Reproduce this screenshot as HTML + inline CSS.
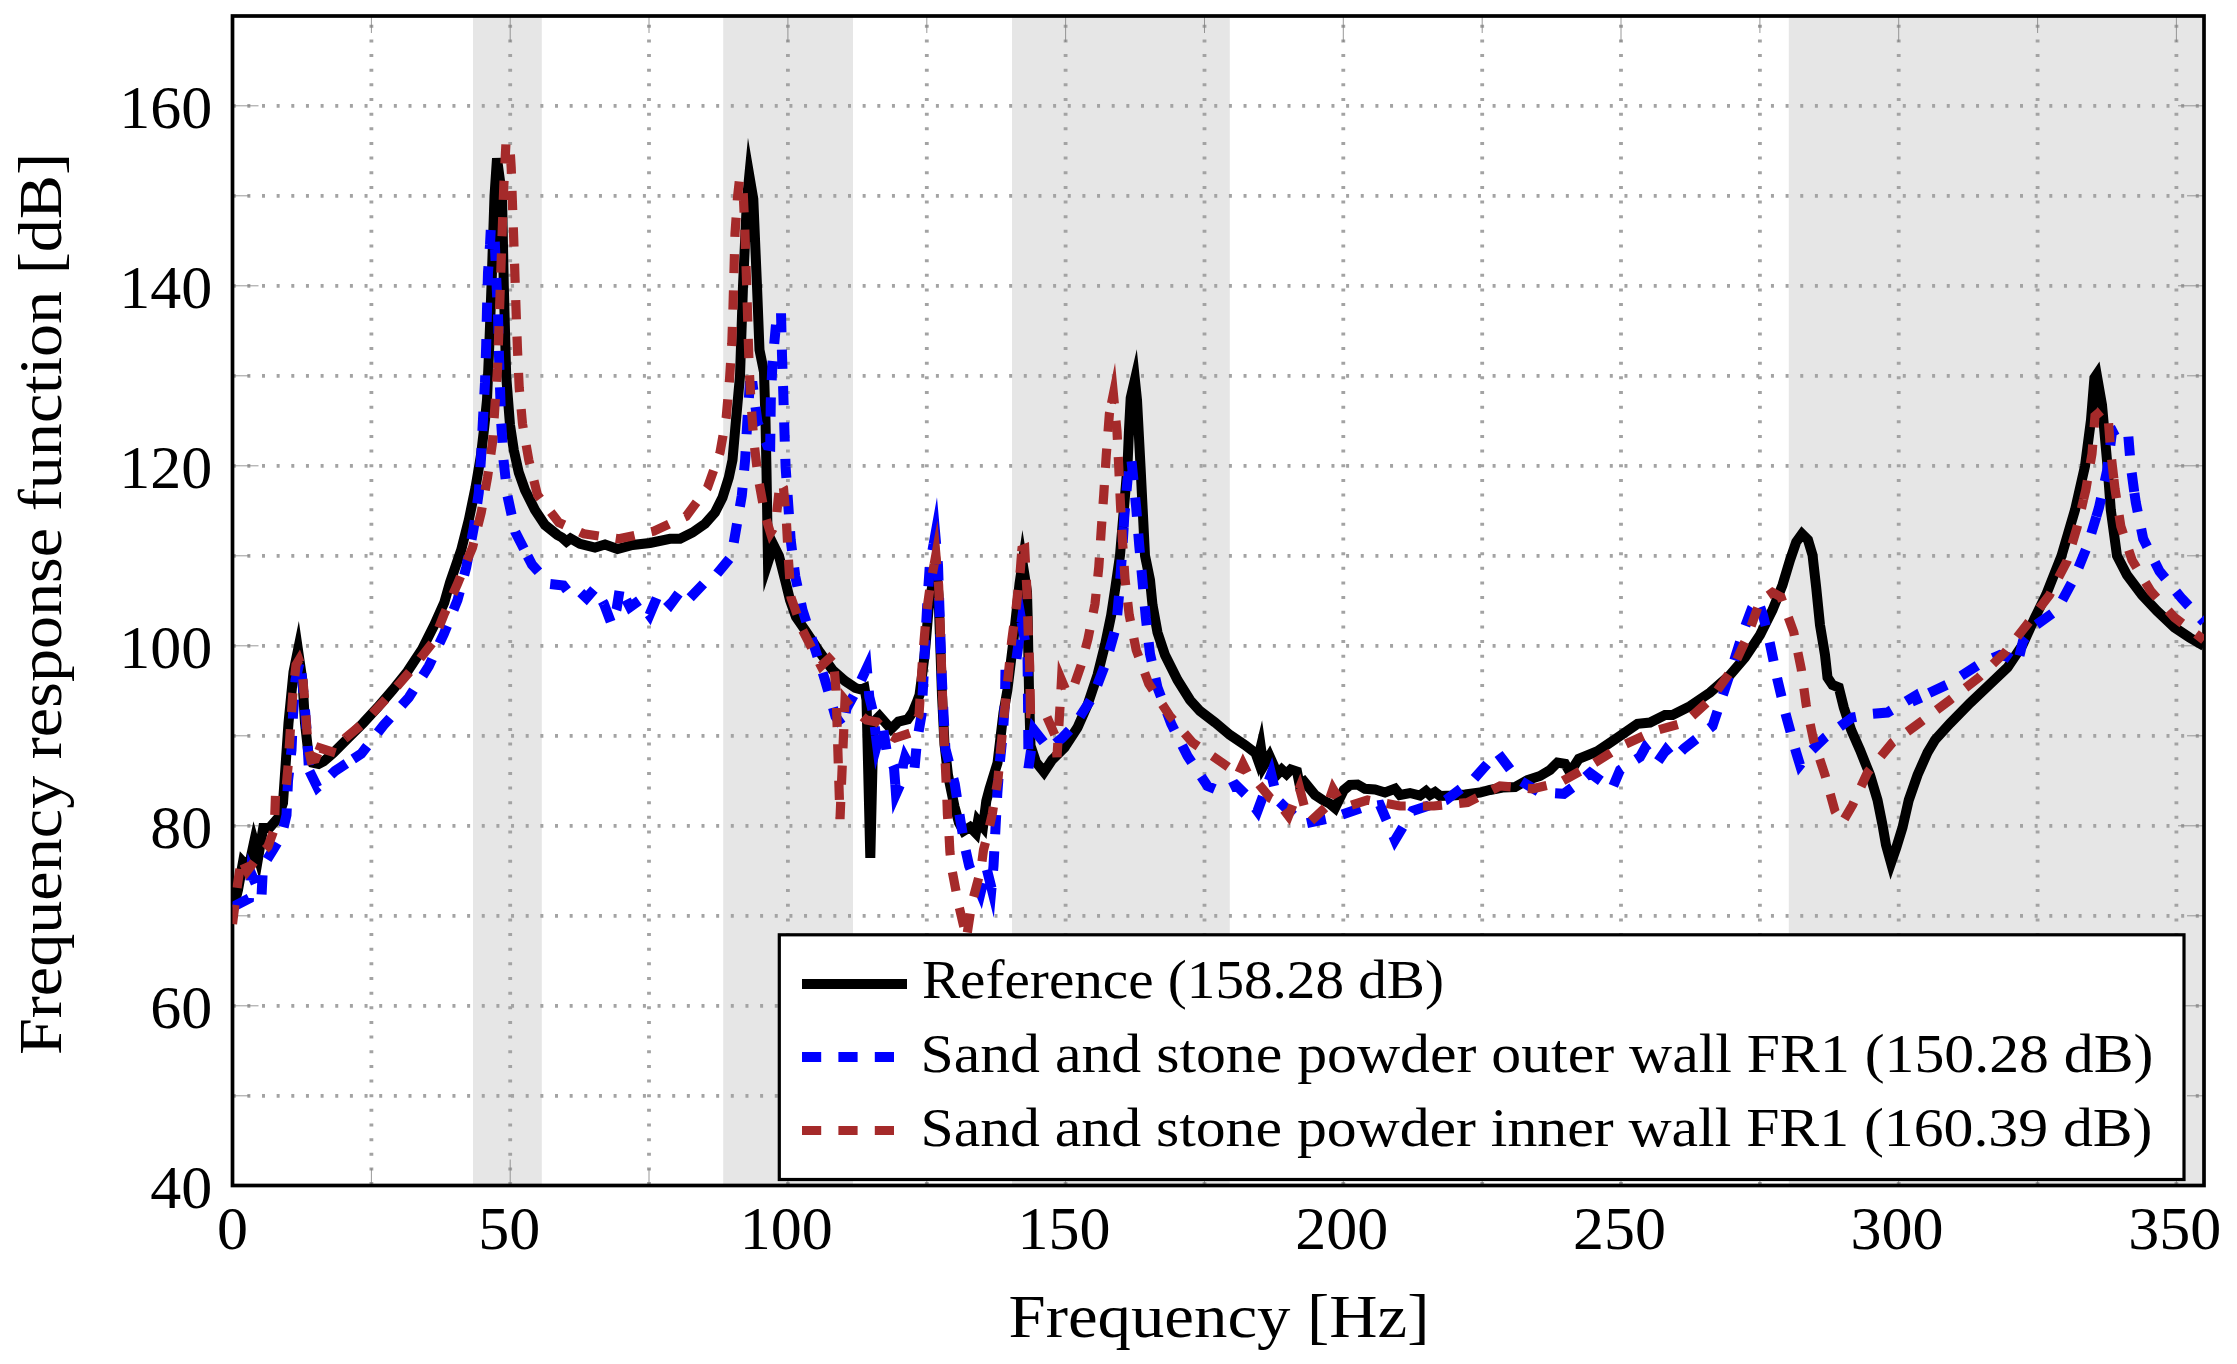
<!DOCTYPE html>
<html lang="en"><head><meta charset="utf-8"><title>Frequency response function</title>
<style>html,body{margin:0;padding:0;background:#fff}svg{display:block}text{font-family:"Liberation Serif","DejaVu Serif",serif;fill:#000}</style></head><body>
<svg width="2237" height="1364" viewBox="0 0 2237 1364">
<rect width="2237" height="1364" fill="#fff"/>
<rect x="473.0" y="16.0" width="68.8" height="1169.5" fill="#e6e6e6"/>
<rect x="723.2" y="16.0" width="129.8" height="1169.5" fill="#e6e6e6"/>
<rect x="1012.0" y="16.0" width="217.8" height="1169.5" fill="#e6e6e6"/>
<rect x="1788.8" y="16.0" width="415.2" height="1169.5" fill="#e6e6e6"/>
<g stroke="#a3a3a3" stroke-width="3.8" stroke-dasharray="3 11.65" fill="none">
<path d="M371.4 1185.5 V16.0" stroke-dashoffset="-0.4"/>
<path d="M510.2 1185.5 V16.0" stroke-dashoffset="-0.4"/>
<path d="M649.0 1185.5 V16.0" stroke-dashoffset="-0.4"/>
<path d="M787.9 1185.5 V16.0" stroke-dashoffset="-0.4"/>
<path d="M926.8 1185.5 V16.0" stroke-dashoffset="-0.4"/>
<path d="M1065.6 1185.5 V16.0" stroke-dashoffset="-0.4"/>
<path d="M1204.5 1185.5 V16.0" stroke-dashoffset="-0.4"/>
<path d="M1343.3 1185.5 V16.0" stroke-dashoffset="-0.4"/>
<path d="M1482.2 1185.5 V16.0" stroke-dashoffset="-0.4"/>
<path d="M1621.0 1185.5 V16.0" stroke-dashoffset="-0.4"/>
<path d="M1759.9 1185.5 V16.0" stroke-dashoffset="-0.4"/>
<path d="M1898.7 1185.5 V16.0" stroke-dashoffset="-0.4"/>
<path d="M2037.6 1185.5 V16.0" stroke-dashoffset="-0.4"/>
<path d="M2176.4 1185.5 V16.0" stroke-dashoffset="-0.4"/>
<path d="M232.5 1095.8 H2204.0" stroke-dashoffset="-0.2"/>
<path d="M232.5 1005.8 H2204.0" stroke-dashoffset="-0.2"/>
<path d="M232.5 915.8 H2204.0" stroke-dashoffset="-0.2"/>
<path d="M232.5 825.8 H2204.0" stroke-dashoffset="-0.2"/>
<path d="M232.5 735.8 H2204.0" stroke-dashoffset="-0.2"/>
<path d="M232.5 645.8 H2204.0" stroke-dashoffset="-0.2"/>
<path d="M232.5 555.8 H2204.0" stroke-dashoffset="-0.2"/>
<path d="M232.5 465.8 H2204.0" stroke-dashoffset="-0.2"/>
<path d="M232.5 375.8 H2204.0" stroke-dashoffset="-0.2"/>
<path d="M232.5 285.8 H2204.0" stroke-dashoffset="-0.2"/>
<path d="M232.5 195.8 H2204.0" stroke-dashoffset="-0.2"/>
<path d="M232.5 105.8 H2204.0" stroke-dashoffset="-0.2"/>
</g>
<g stroke="#7f7f7f" stroke-width="0.8" fill="none">
<path d="M232.5 16.0 v26.0 M232.5 1185.5 v-26.0"/>
<path d="M371.4 16.0 v17.0 M371.4 1185.5 v-17.0"/>
<path d="M510.2 16.0 v26.0 M510.2 1185.5 v-26.0"/>
<path d="M649.0 16.0 v17.0 M649.0 1185.5 v-17.0"/>
<path d="M787.9 16.0 v26.0 M787.9 1185.5 v-26.0"/>
<path d="M926.8 16.0 v17.0 M926.8 1185.5 v-17.0"/>
<path d="M1065.6 16.0 v26.0 M1065.6 1185.5 v-26.0"/>
<path d="M1204.5 16.0 v17.0 M1204.5 1185.5 v-17.0"/>
<path d="M1343.3 16.0 v26.0 M1343.3 1185.5 v-26.0"/>
<path d="M1482.2 16.0 v17.0 M1482.2 1185.5 v-17.0"/>
<path d="M1621.0 16.0 v26.0 M1621.0 1185.5 v-26.0"/>
<path d="M1759.9 16.0 v17.0 M1759.9 1185.5 v-17.0"/>
<path d="M1898.7 16.0 v26.0 M1898.7 1185.5 v-26.0"/>
<path d="M2037.6 16.0 v17.0 M2037.6 1185.5 v-17.0"/>
<path d="M2176.4 16.0 v26.0 M2176.4 1185.5 v-26.0"/>
<path d="M232.5 1185.8 h26.0 M2204.0 1185.8 h-26.0"/>
<path d="M232.5 1095.8 h17.0 M2204.0 1095.8 h-17.0"/>
<path d="M232.5 1005.8 h26.0 M2204.0 1005.8 h-26.0"/>
<path d="M232.5 915.8 h17.0 M2204.0 915.8 h-17.0"/>
<path d="M232.5 825.8 h26.0 M2204.0 825.8 h-26.0"/>
<path d="M232.5 735.8 h17.0 M2204.0 735.8 h-17.0"/>
<path d="M232.5 645.8 h26.0 M2204.0 645.8 h-26.0"/>
<path d="M232.5 555.8 h17.0 M2204.0 555.8 h-17.0"/>
<path d="M232.5 465.8 h26.0 M2204.0 465.8 h-26.0"/>
<path d="M232.5 375.8 h17.0 M2204.0 375.8 h-17.0"/>
<path d="M232.5 285.8 h26.0 M2204.0 285.8 h-26.0"/>
<path d="M232.5 195.8 h17.0 M2204.0 195.8 h-17.0"/>
<path d="M232.5 105.8 h26.0 M2204.0 105.8 h-26.0"/>
<path d="M232.5 15.8 h17.0 M2204.0 15.8 h-17.0"/>
</g>
<rect x="232.5" y="16.0" width="1971.5" height="1169.5" fill="none" stroke="#000" stroke-width="3.7"/>
<clipPath id="c"><rect x="232.5" y="16.0" width="1971.5" height="1169.5"/></clipPath>
<g clip-path="url(#c)" fill="none" stroke-linejoin="miter" stroke-miterlimit="10">
<path d="M232.5 912.0 L238.0 890.0 L243.0 862.0 L248.5 868.0 L254.1 842.0 L258.3 857.0 L263.2 828.0 L269.4 828.0 L278.0 818.0 L283.0 803.0 L288.5 723.0 L293.5 672.0 L298.0 650.0 L302.5 681.0 L305.0 723.0 L308.3 752.8 L312.5 762.6 L318.6 763.9 L323.6 761.4 L333.4 752.8 L348.2 738.0 L363.0 723.2 L377.8 707.2 L392.6 690.0 L407.4 671.5 L422.1 649.3 L434.5 624.6 L444.3 602.5 L450.0 582.5 L461.2 550.0 L468.8 520.0 L475.5 487.5 L481.0 455.0 L484.5 425.0 L487.0 400.0 L489.5 340.0 L491.5 286.0 L494.5 196.0 L497.0 158.3 L502.0 196.0 L503.8 286.0 L506.2 376.0 L510.0 425.0 L513.8 450.0 L518.8 472.5 L525.0 490.0 L535.0 510.0 L545.0 525.0 L557.5 535.0 L562.0 537.5 L566.5 541.5 L570.5 538.5 L580.0 543.8 L595.0 547.5 L605.0 544.5 L617.5 549.0 L632.5 545.0 L650.0 543.0 L670.0 538.8 L680.0 538.8 L692.5 532.5 L705.0 523.8 L715.0 512.5 L722.5 497.5 L728.8 477.5 L732.5 460.0 L736.0 420.0 L740.0 376.0 L743.0 286.0 L747.0 199.0 L749.3 175.5 L753.3 199.0 L757.0 286.0 L759.5 350.0 L764.0 372.0 L765.5 420.0 L766.5 471.0 L767.3 520.0 L768.0 562.0 L773.5 545.0 L779.0 556.0 L785.6 582.0 L790.0 600.0 L796.0 617.0 L805.0 630.0 L820.0 652.5 L832.5 670.0 L845.0 681.0 L855.4 688.0 L861.0 689.5 L864.5 688.0 L866.5 700.0 L870.3 858.0 L873.5 722.0 L879.5 716.0 L891.0 729.0 L898.5 721.6 L907.7 719.3 L912.8 712.0 L916.5 703.0 L919.5 695.0 L921.5 680.0 L924.0 660.0 L925.5 646.0 L928.5 610.0 L931.0 593.0 L935.9 566.0 L938.5 595.0 L940.3 646.0 L942.0 695.0 L944.5 744.0 L948.0 775.0 L954.5 806.6 L959.0 822.9 L963.5 831.0 L970.0 827.0 L975.8 833.0 L978.0 821.0 L983.0 827.0 L986.3 801.0 L989.5 789.0 L997.5 763.0 L1000.5 737.6 L1003.5 712.5 L1007.4 690.0 L1012.8 646.0 L1019.5 584.0 L1022.6 563.0 L1024.5 575.0 L1027.0 592.0 L1027.7 618.6 L1029.0 690.0 L1030.5 745.5 L1036.0 762.0 L1044.0 772.0 L1052.0 760.0 L1064.5 747.5 L1077.5 727.5 L1087.5 705.0 L1097.5 675.0 L1105.0 645.0 L1111.2 615.0 L1115.0 590.0 L1120.0 555.5 L1127.5 466.0 L1129.0 430.0 L1130.7 398.0 L1134.9 379.7 L1137.0 400.0 L1140.5 466.0 L1145.0 555.5 L1150.0 580.0 L1152.5 605.0 L1157.5 632.5 L1165.0 655.0 L1177.5 680.0 L1190.0 700.0 L1200.0 711.0 L1215.0 722.5 L1230.0 735.0 L1245.0 745.0 L1255.5 753.0 L1257.8 759.5 L1260.8 747.0 L1263.5 766.0 L1269.5 756.0 L1277.5 774.0 L1281.7 769.5 L1286.5 774.0 L1290.8 769.5 L1297.0 771.5 L1299.5 784.0 L1304.0 781.5 L1315.0 795.0 L1322.5 800.0 L1330.0 803.8 L1335.0 808.0 L1343.8 790.0 L1350.0 785.0 L1357.5 784.5 L1365.0 788.8 L1375.0 789.5 L1385.0 792.5 L1395.0 788.8 L1400.0 795.0 L1410.0 793.0 L1420.0 795.5 L1426.0 791.0 L1430.0 795.0 L1435.0 792.0 L1440.0 796.0 L1452.5 795.5 L1465.0 794.5 L1480.0 792.5 L1490.0 790.0 L1502.5 787.5 L1515.0 787.0 L1527.5 780.0 L1540.0 776.0 L1550.0 770.0 L1557.5 762.5 L1565.0 763.8 L1570.0 772.5 L1578.8 758.8 L1597.5 751.2 L1617.5 737.5 L1637.5 723.8 L1650.0 722.5 L1665.0 715.0 L1672.5 715.0 L1690.0 706.2 L1710.0 692.5 L1730.0 675.0 L1745.0 657.5 L1760.0 635.0 L1772.5 610.0 L1782.5 585.0 L1790.0 560.0 L1796.2 542.0 L1802.0 534.0 L1808.0 540.0 L1812.5 555.0 L1816.2 587.5 L1820.0 625.0 L1825.0 655.0 L1827.5 677.5 L1832.5 685.0 L1838.8 687.5 L1843.8 707.5 L1851.2 730.0 L1860.0 750.0 L1870.0 775.0 L1877.5 800.0 L1882.5 825.0 L1886.0 845.0 L1891.0 863.0 L1896.2 848.0 L1902.5 827.5 L1908.8 800.0 L1917.5 775.0 L1927.5 752.5 L1935.0 740.0 L1950.0 723.5 L1970.0 703.0 L1990.0 684.0 L2007.5 667.5 L2022.5 645.0 L2035.0 617.5 L2046.0 595.0 L2061.5 555.8 L2075.0 510.0 L2085.0 466.0 L2091.0 420.0 L2094.4 378.0 L2096.7 374.6 L2102.0 405.0 L2107.5 466.0 L2110.8 510.0 L2117.0 555.8 L2127.0 575.0 L2142.0 595.0 L2157.0 611.0 L2174.5 627.5 L2189.5 637.5 L2204.0 646.0" stroke="#000" stroke-width="10"/>
<path d="M232.5 907.0 L249.0 898.5 L251.0 873.0 L261.5 897.0 L263.0 866.0 L273.0 850.0 L281.7 835.3 L286.5 815.0 L288.0 781.0 L291.5 750.0 L293.0 715.0 L295.5 680.0 L300.0 660.0 L304.0 698.0 L307.0 735.0 L309.0 770.0 L309.5 771.1" stroke="#0000ff" stroke-width="10" stroke-dasharray="19.2 17.2" stroke-dashoffset="0.0"/>
<path d="M309.5 771.1 L317.4 787.3 L335.0 771.0 L353.2 759.0" stroke="#0000ff" stroke-width="10" stroke-dasharray="19.2 17.2" stroke-dashoffset="0.0"/>
<path d="M353.2 759.0 L361.2 753.8 L383.8 725.0 L408.8 697.5 L428.8 666.2 L443.8 634.0 L457.5 600.0 L466.2 567.5 L473.8 527.5 L478.8 492.5 L481.2 455.0 L483.0 419.0 L485.0 382.5 L486.2 345.0 L487.0 309.0 L488.0 272.5 L490.0 245.0 L490.8 229.0 L494.3 229.0 L496.2 277.5 L498.0 314.0 L498.8 350.0 L500.0 387.5 L501.2 422.5 L503.5 460.0 L507.5 496.0 L515.3 532.0 L527.6 556.1" stroke="#0000ff" stroke-width="10" stroke-dasharray="19.2 17.2" stroke-dashoffset="0.0"/>
<path d="M527.6 556.1 L532.0 564.6 L549.5 584.0 L563.3 585.5 L570.0 594.0 L578.4 590.3 L586.5 598.0 L595.3 588.0 L603.9 603.9" stroke="#0000ff" stroke-width="10" stroke-dasharray="19.2 17.2" stroke-dashoffset="0.0"/>
<path d="M603.9 603.9 L604.0 604.0 L611.5 624.0 L616.6 609.0 L620.0 587.5 L630.0 607.0 L639.2 600.5 L649.5 615.0 L659.0 592.5 L670.5 604.5 L680.0 591.5 L688.0 600.0 L705.6 581.6 L716.9 574.0 L731.3 556.5 L735.7 531.4 L741.8 495.5 L745.2 459.0 L747.3 422.0 L749.7 386.0 L752.8 386.0 L757.5 422.5 L767.3 445.5 L770.2 446.0 L770.8 400.0 L772.5 362.5 L776.2 322.5 L778.0 312.0 L781.0 312.0 L782.0 355.0 L783.1 387.0 L784.4 430.0 L785.6 467.0 L788.2 504.0 L790.7 540.0 L795.3 576.5 L802.5 610.0 L813.8 645.0 L825.0 680.0 L835.5 716.5 L843.0 727.0 L846.6 708.4 L855.9 691.4 L866.8 668.0 L869.3 697.0 L873.0 712.0 L875.8 735.0" stroke="#0000ff" stroke-width="10" stroke-dasharray="19.2 17.2" stroke-dashoffset="0.0"/>
<path d="M875.8 735.0 L877.0 744.5 L882.5 724.5 L886.5 750.0 L894.0 767.7 L895.3 784.4" stroke="#0000ff" stroke-width="10" stroke-dasharray="19.2 17.2" stroke-dashoffset="0.0"/>
<path d="M895.3 784.4 L896.0 794.0 L902.0 780.5 L903.0 765.0 L905.0 757.5 L914.0 774.0 L917.0 741.0 L921.5 715.0 L923.5 678.0 L925.0 646.0 L927.5 600.0 L929.9 564.2 L933.6 544.1" stroke="#0000ff" stroke-width="10" stroke-dasharray="19.2 17.2" stroke-dashoffset="0.0"/>
<path d="M933.6 544.1 L935.3 534.7 L938.0 565.0 L940.5 640.0 L941.8 677.0 L943.5 713.5 L945.4 748.9 L954.8 784.0 L960.4 820.4 L964.9 846.7 L969.2 866.0 L980.5 893.0 L986.5 868.0 L991.5 888.0 L993.5 866.0 L995.4 830.0 L997.3 793.7 L999.3 767.7 L1003.0 731.3 L1005.0 700.0 L1005.5 668.0 L1016.0 662.0 L1021.6 622.0 L1027.5 655.0 L1028.0 700.0 L1028.5 768.0 L1034.0 730.0 L1049.0 749.0 L1062.0 738.0 L1074.3 725.3 L1092.9 696.6 L1106.4 661.2 L1116.2 626.2 L1119.5 590.0 L1122.0 553.8 L1123.7 527.1" stroke="#0000ff" stroke-width="10" stroke-dasharray="19.2 17.2" stroke-dashoffset="0.0"/>
<path d="M1123.7 527.1 L1124.2 517.5 L1127.5 480.0 L1131.2 458.0 L1136.2 507.5 L1139.2 545.0 L1142.5 581.2 L1145.8 617.5 L1150.0 653.8 L1157.5 687.5 L1171.2 723.8 L1187.5 756.0 L1207.5 786.0 L1222.0 792.0 L1236.0 785.0 L1246.0 795.0 L1257.5 811.0 L1271.2 774.0 L1277.5 800.0 L1302.5 824.0 L1333.8 817.5 L1362.5 807.5 L1380.0 805.0 L1395.0 840.0 L1412.5 811.0 L1446.0 800.0 L1473.8 779.0 L1497.5 752.5 L1517.5 779.0 L1540.0 792.5 L1563.8 793.8 L1577.5 783.8 L1590.0 773.0 L1612.0 789.0 L1620.0 770.0 L1640.0 757.0 L1645.0 748.0 L1657.0 763.0 L1666.0 750.0 L1673.8 759.0 L1683.8 748.8 L1695.0 740.0 L1712.5 726.0 L1721.2 700.0 L1732.5 666.0 L1743.8 630.0 L1752.0 608.0 L1757.5 600.0 L1763.0 615.0 L1770.0 643.8 L1777.5 680.0 L1786.2 716.2 L1796.2 752.5 L1800.0 765.0 L1812.0 750.0 L1825.0 737.5 L1852.5 717.5 L1870.0 714.0 L1887.5 712.5 L1905.0 702.0 L1915.0 696.0 L1918.8 705.0 L1925.0 695.0 L1948.8 683.8 L1980.0 663.8 L2000.0 655.0 L2008.0 657.0 L2017.5 664.0 L2023.0 641.0 L2036.2 625.0 L2057.0 610.0 L2074.5 577.5 L2088.2 543.8 L2096.3 516.7" stroke="#0000ff" stroke-width="10" stroke-dasharray="19.2 17.2" stroke-dashoffset="0.0"/>
<path d="M2096.3 516.7 L2099.0 507.5 L2107.0 471.2 L2112.0 432.0 L2120.8 427.5 L2128.0 432.0 L2130.8 466.2 L2134.4 493.0" stroke="#0000ff" stroke-width="10" stroke-dasharray="19.2 17.2" stroke-dashoffset="0.0"/>
<path d="M2134.4 493.0 L2135.8 502.5 L2143.2 538.8 L2159.5 571.2 L2182.0 598.8 L2204.0 622.0" stroke="#0000ff" stroke-width="10" stroke-dasharray="19.2 17.2" stroke-dashoffset="0.0"/>
<path d="M232.5 924.0 L237.3 886.0 L241.5 858.0 L247.2 871.0 L258.3 856.3 L268.0 846.4 L274.3 829.2 L275.5 795.0 L286.0 789.0 L288.0 767.0 L290.3 730.6 L292.8 693.6 L296.0 665.0 L299.0 660.0 L302.0 668.0 L304.5 698.6 L308.2 748.0 L311.0 760.0 L315.5 759.0 L318.9 750.8" stroke="#a52a2a" stroke-width="9.2" stroke-dasharray="19.2 17.2" stroke-dashoffset="0.0"/>
<path d="M318.9 750.8 L320.0 748.0 L336.0 753.0 L344.5 738.8 L345.6 737.9" stroke="#a52a2a" stroke-width="9.2" stroke-dasharray="19.2 17.2" stroke-dashoffset="0.0"/>
<path d="M345.6 737.9 L361.8 724.4 L386.4 698.6 L411.0 670.2 L433.2 641.9 L443.8 615.0 L457.5 583.8 L472.5 547.5 L481.2 512.5 L487.5 477.5 L492.5 442.5 L495.0 405.0 L497.5 369.0 L498.8 332.5 L500.0 296.0 L501.2 260.0 L502.5 222.5 L503.8 186.0 L505.9 144.0 L509.6 142.0 L511.2 167.5 L512.5 205.0 L513.8 241.0 L515.0 277.5 L516.2 314.0 L517.5 350.0 L519.2 387.5 L522.5 424.0 L528.8 460.0 L537.5 495.0 L558.8 522.5 L583.8 533.8 L618.8 538.8 L653.8 531.2 L686.2 516.2 L707.5 487.5 L720.0 452.5 L726.2 417.5 L729.5 380.0 L731.8 343.8 L733.0 307.5 L734.0 271.0 L735.0 233.8 L737.5 197.5 L739.3 181.0 L742.6 180.0 L744.5 221.0 L745.8 258.8 L747.0 295.0 L748.0 331.0 L749.2 368.8 L751.2 405.0 L753.8 441.0 L758.2 477.8 L764.9 514.9 L770.5 533.0 L775.5 525.0 L780.0 482.0 L783.5 488.0 L786.5 523.3 L788.5 560.4 L791.0 597.5 L802.5 630.0 L821.0 666.0 L833.0 655.0 L836.0 690.0 L840.0 819.0 L845.0 700.0 L850.0 706.0 L866.4 720.0 L877.0 722.0 L890.8 735.7 L895.0 738.0 L910.0 733.0 L919.0 715.0 L922.5 660.0 L926.2 615.0 L930.5 584.0 L934.2 564.1" stroke="#a52a2a" stroke-width="9.2" stroke-dasharray="19.2 17.2" stroke-dashoffset="0.0"/>
<path d="M934.2 564.1 L935.9 554.7 L938.6 585.0 L940.0 620.0 L941.2 657.5 L942.5 695.0 L943.8 732.5 L946.8 796.2 L947.4 814.3 L948.9 832.3 L949.9 851.7 L951.8 869.1 L955.5 888.4 L958.6 904.6 L966.5 938.0 L971.7 904.0 L976.7 885.3 L981.0 869.0 L983.5 850.0 L987.9 833.0 L992.3 814.0 L994.8 797.4 L997.9 780.0 L1000.6 750.2 L1004.3 713.8 L1007.8 680.0 L1011.6 641.7 L1016.3 606.3 L1020.4 569.3 L1021.7 551.5" stroke="#a52a2a" stroke-width="9.2" stroke-dasharray="19.2 17.2" stroke-dashoffset="0.0"/>
<path d="M1021.7 551.5 L1021.9 549.5 L1024.7 548.5 L1027.0 592.4 L1028.1 629.4 L1029.7 666.3 L1030.2 695.0" stroke="#a52a2a" stroke-width="9.2" stroke-dasharray="19.2 17.2" stroke-dashoffset="0.0"/>
<path d="M1030.2 695.0 L1030.5 714.0 L1046.5 716.0 L1055.0 735.4 L1057.0 757.0 L1059.5 715.0 L1061.0 689.6" stroke="#a52a2a" stroke-width="9.2" stroke-dasharray="19.2 17.2" stroke-dashoffset="0.0"/>
<path d="M1061.0 689.6 L1061.5 680.0 L1067.0 693.0 L1074.3 684.8 L1081.0 665.4 L1088.0 638.8 L1095.0 603.8 L1098.8 567.0 L1101.2 530.5 L1103.8 493.8 L1106.2 456.0 L1109.4 413.7 L1111.5 403.4" stroke="#a52a2a" stroke-width="9.2" stroke-dasharray="19.2 17.2" stroke-dashoffset="0.0"/>
<path d="M1111.5 403.4 L1113.4 394.0 L1115.5 416.0 L1117.0 431.0 L1118.8 468.0 L1120.5 505.0 L1122.5 541.0 L1125.0 578.8 L1129.2 615.0 L1136.2 650.0 L1148.8 683.8 L1170.0 716.2 L1192.5 742.5 L1220.0 761.2 L1230.7 768.7 L1237.5 776.0 L1239.0 772.7" stroke="#a52a2a" stroke-width="9.2" stroke-dasharray="19.2 17.2" stroke-dashoffset="0.0"/>
<path d="M1239.0 772.7 L1243.0 764.0 L1249.5 777.0 L1255.4 780.0 L1270.4 798.2 L1278.0 802.0 L1288.5 816.0 L1299.5 788.0 L1305.0 809.0 L1311.0 821.0 L1327.3 805.7 L1329.9 798.1" stroke="#a52a2a" stroke-width="9.2" stroke-dasharray="19.2 17.2" stroke-dashoffset="0.0"/>
<path d="M1329.9 798.1 L1333.0 789.0 L1340.0 801.0 L1348.8 806.0 L1367.5 800.0 L1400.0 806.0 L1433.8 806.0 L1467.5 802.5 L1500.0 786.0 L1532.5 788.8 L1560.0 782.5 L1591.2 765.0 L1621.2 746.2 L1653.8 731.2 L1685.0 722.5 L1711.2 698.8 L1732.5 668.8 L1747.5 636.2 L1760.0 601.2 L1772.5 592.5 L1781.0 597.0 L1793.8 632.5 L1801.2 668.8 L1806.2 705.0 L1813.8 741.2 L1825.0 775.0 L1835.0 811.2 L1842.0 823.0 L1852.5 805.0 L1867.5 772.5 L1892.5 742.5 L1920.0 722.5 L1950.0 700.0 L1978.8 677.5 L2005.0 652.5 L2027.5 623.8 L2049.5 595.0 L2067.0 561.2 L2077.0 527.5 L2083.6 499.3" stroke="#a52a2a" stroke-width="9.2" stroke-dasharray="19.2 17.2" stroke-dashoffset="0.0"/>
<path d="M2083.6 499.3 L2085.8 490.0 L2092.0 453.8 L2095.0 416.0 L2102.0 410.0 L2108.0 416.0 L2110.8 452.5 L2113.9 479.2" stroke="#a52a2a" stroke-width="9.2" stroke-dasharray="19.2 17.2" stroke-dashoffset="0.0"/>
<path d="M2113.9 479.2 L2115.0 488.8 L2120.8 526.2 L2132.0 560.0 L2150.8 591.2 L2174.5 617.5 L2204.0 640.0" stroke="#a52a2a" stroke-width="9.2" stroke-dasharray="19.2 17.2" stroke-dashoffset="0.0"/>
</g>
<rect x="779.3" y="934.8" width="1404.7" height="244.7" fill="#fff" stroke="#000" stroke-width="3.2"/>
<path d="M802 984 H907" stroke="#000" stroke-width="10"/>
<path d="M802 1057 H907" stroke="#0000ff" stroke-width="10" stroke-dasharray="19.2 17.2"/>
<path d="M802 1130.5 H907" stroke="#a52a2a" stroke-width="9.2" stroke-dasharray="19.2 17.2"/>
<g font-size="55">
<text x="922" y="998.3" textLength="522" lengthAdjust="spacingAndGlyphs">Reference (158.28 dB)</text>
<text x="920.5" y="1072" textLength="1233" lengthAdjust="spacingAndGlyphs">Sand and stone powder outer wall FR1 (150.28 dB)</text>
<text x="920.5" y="1146.3" textLength="1232" lengthAdjust="spacingAndGlyphs">Sand and stone powder inner wall FR1 (160.39 dB)</text>
</g>
<g font-size="62">
<text x="232.5" y="1248.6" text-anchor="middle">0</text>
<text x="509.2" y="1248.6" text-anchor="middle">50</text>
<text x="786.3" y="1248.6" text-anchor="middle">100</text>
<text x="1064.0" y="1248.6" text-anchor="middle">150</text>
<text x="1341.7" y="1248.6" text-anchor="middle">200</text>
<text x="1619.4" y="1248.6" text-anchor="middle">250</text>
<text x="1897.1" y="1248.6" text-anchor="middle">300</text>
<text x="2174.8" y="1248.6" text-anchor="middle">350</text>
<text x="212.3" y="1207.7" text-anchor="end">40</text>
<text x="212.3" y="1027.7" text-anchor="end">60</text>
<text x="212.3" y="847.7" text-anchor="end">80</text>
<text x="212.3" y="667.7" text-anchor="end">100</text>
<text x="212.3" y="487.7" text-anchor="end">120</text>
<text x="212.3" y="307.7" text-anchor="end">140</text>
<text x="212.3" y="127.7" text-anchor="end">160</text>
<text x="1219" y="1337" text-anchor="middle" textLength="421" lengthAdjust="spacingAndGlyphs">Frequency [Hz]</text>
<text transform="translate(60.5 604) rotate(-90)" text-anchor="middle" textLength="902" lengthAdjust="spacingAndGlyphs">Frequency response function [dB]</text>
</g>
</svg></body></html>
